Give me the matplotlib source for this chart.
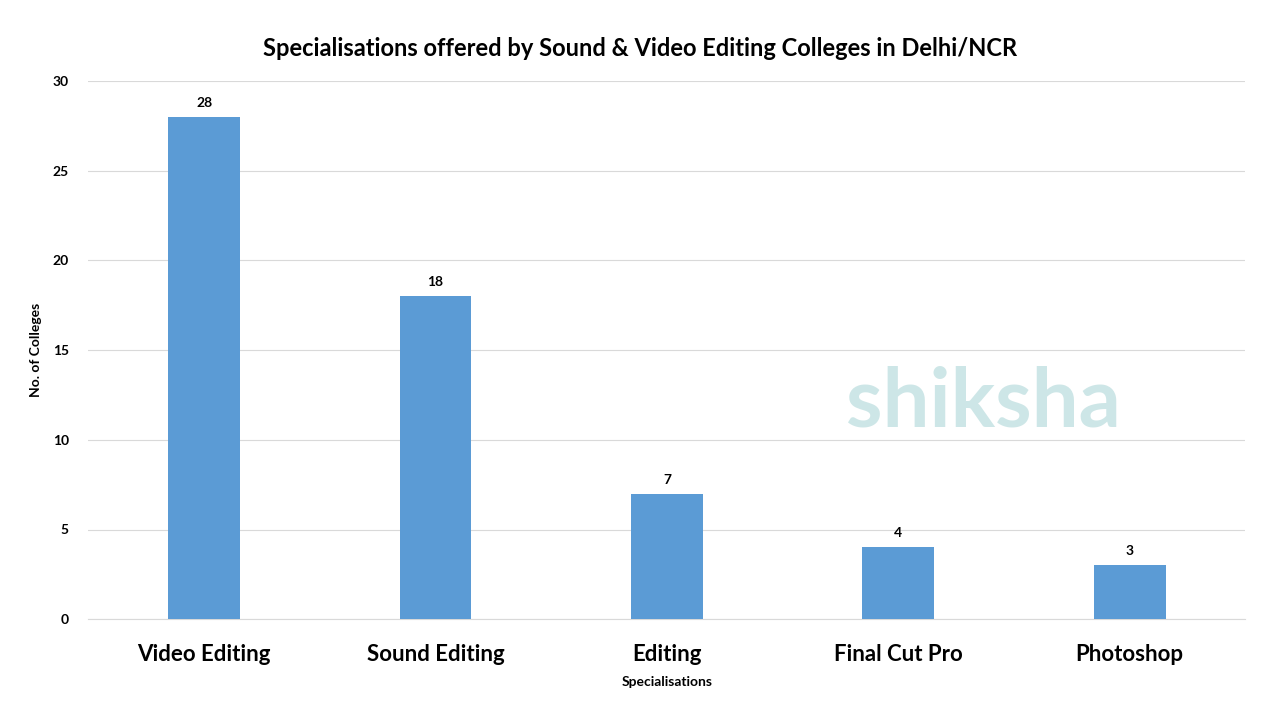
import matplotlib
matplotlib.use("Agg")
import matplotlib.pyplot as plt

categories = ["Video Editing", "Sound Editing", "Editing", "Final Cut Pro", "Photoshop"]
values = [28, 18, 7, 4, 3]
yticks = [0, 5, 10, 15, 20, 25, 30]

plt.rcParams['font.family'] = ['Lato', 'DejaVu Sans']
fig = plt.figure(figsize=(12.8, 7.2), dpi=100)
ax = fig.add_axes([0.069, 0.140, 0.904, 0.7475])
x = range(len(categories))
bars = ax.bar(x, values, width=0.31, color="#5B9BD5", zorder=3)
for xi, v in zip(x, values):
    ax.text(xi, v + 0.45, str(v), ha="center", va="bottom", fontsize=10, fontweight="bold")
ax.set_ylim(0, 30)
ax.set_xlim(-0.5, len(categories) - 0.5)
ax.set_yticks(yticks)
ax.set_yticklabels([str(t) for t in yticks], fontsize=10, fontweight="bold")
ax.set_xticks(list(x))
ax.set_xticklabels(categories, fontsize=16, fontweight="bold")
ax.tick_params(axis="both", length=0)
ax.tick_params(axis="y", pad=14)
ax.tick_params(axis="x", pad=18)
ax.grid(axis="y", color="#D9D9D9", linewidth=0.8, zorder=0)
for s in ["top", "right", "left"]:
    ax.spines[s].set_visible(False)
ax.spines["bottom"].set_color("#D9D9D9")
ax.set_xlabel("Specialisations", fontsize=10, fontweight="bold", labelpad=8)
ax.set_ylabel("No. of Colleges", fontsize=10, fontweight="bold", labelpad=8)
fig.text(0.5, 0.933, "Specialisations offered by Sound & Video Editing Colleges in Delhi/NCR",
         ha="center", va="center", fontsize=17, fontweight="bold")
fig.text(0.768, 0.44, "shiksha", ha="center", va="center", fontsize=60,
         color="#B9DCDD", alpha=0.7, fontweight="bold", zorder=5)
fig.savefig("out.png", dpi=100)
